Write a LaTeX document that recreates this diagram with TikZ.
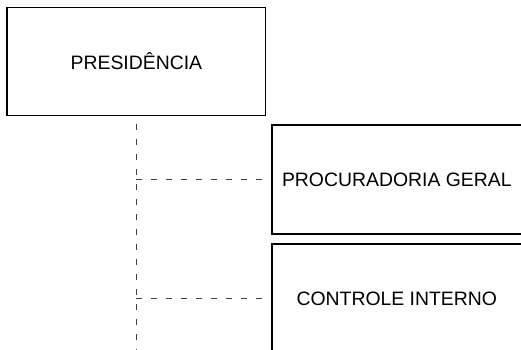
\documentclass[tikz,border=0pt]{standalone}
\usepackage{fontspec}
\setmainfont{Liberation Sans}
\begin{document}
\begin{tikzpicture}[x=1pt,y=-1pt,
  box/.style={draw=black, line width=1.5pt, fill=white, inner sep=0pt,
    font=\fontsize{19.4}{23}\selectfont},
  conn/.style={draw=black!75, line width=1.1pt, dash pattern=on 5.5pt off 9.5pt}]
\useasboundingbox (0,0) rectangle (521,349);
\clip (0,0) rectangle (521,349);
\fill[white] (0,0) rectangle (521,349);
\node[box, minimum width=258.5pt, minimum height=108pt] (pres) at (136.4,61.6) {PRESIDÊNCIA};
\node[box, minimum width=250pt, minimum height=109pt] (proc) at (396.8,179.5) {PROCURADORIA GERAL};
\node[box, minimum width=250pt, minimum height=109pt] (ctrl) at (396.8,298.5) {CONTROLE INTERNO};
\coordinate (bot) at (pres.south |- 0,355);
\draw[conn, dash phase=7pt] (pres.south) -- (bot);
\draw[conn] (pres.south |- proc.west) -- (proc.west);
\draw[conn] (pres.south |- ctrl.west) -- (ctrl.west);
\end{tikzpicture}
\end{document}
